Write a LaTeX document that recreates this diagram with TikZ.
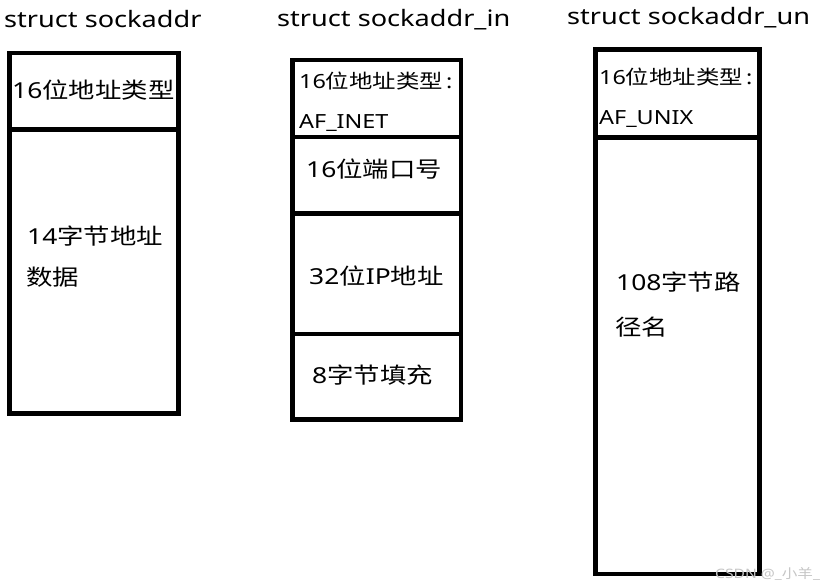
\documentclass[tikz,border=0pt]{standalone}
\usepackage{fontspec}
\setmainfont{Noto Sans}[FakeStretch=1.2]
\newfontfamily\cjk{Noto Sans CJK SC}[FakeStretch=1.2]
\begin{document}
\begin{tikzpicture}[x=1pt,y=-1pt,
  cell/.style={draw=black, line width=4.5pt, rectangle, inner sep=0pt, outer sep=0pt},
  title/.style={anchor=base west, inner sep=0pt, font=\fontsize{22.6}{26}\selectfont},
  txt/.style={anchor=base west, inner sep=0pt, font=\fontsize{22}{26}\selectfont},
  hdr/.style={anchor=base west, inner sep=0pt, font=\fontsize{19.5}{23}\selectfont},
  wmark/.style={anchor=base west, inner sep=0pt, text=gray!45, font=\fontsize{13}{15}\selectfont}]
\fill[white] (0,0) rectangle (827,588);
\useasboundingbox (0,0) rectangle (827,588);

% titles
\node[title] (t1) at (4,28) {struct sockaddr};
\node[title] (t2) at (277,27) {struct sockaddr\_in};
\node[title] (t3) at (567,25) {struct sockaddr\_un};

% box 1: struct sockaddr
\node[cell, minimum width=169pt, minimum height=76.5pt] (a1) at (94,91.25) {};
\node[cell, minimum width=169pt, minimum height=284pt] (a2) at (94,271.5) {};
\node[txt] (a1t) at (12,99) {16{\cjk 位地址类型}};
\node[txt] (a2t) at (27,244) {14{\cjk 字节地址}};
\node[txt] (a2u) at (26,285) {{\cjk 数据}};

% box 2: struct sockaddr_in
\node[cell, minimum width=168.5pt, minimum height=77pt] (b1) at (376.75,98.5) {};
\node[cell, minimum width=168.5pt, minimum height=76.5pt] (b2) at (376.75,175.25) {};
\node[cell, minimum width=168.5pt, minimum height=120.5pt] (b3) at (376.75,273.75) {};
\node[cell, minimum width=168.5pt, minimum height=85.5pt] (b4) at (376.75,376.75) {};
\node[hdr] (b1t) at (299,89) {16{\cjk 位地址类型}\,:};
\node[hdr] (b1u) at (299,129) {AF\_INET};
\node[txt] (b2t) at (306,178) {16{\cjk 位端口号}};
\node[txt] (b3t) at (309,284) {32{\cjk 位}IP{\cjk 地址}};
\node[txt] (b4t) at (312,383) {8{\cjk 字节填充}};

% box 3: struct sockaddr_un
\node[cell, minimum width=164pt, minimum height=88pt] (c1) at (677.5,93.5) {};
\node[cell, minimum width=164pt, minimum height=436.5pt] (c2) at (677.5,355.75) {};
\node[hdr] (c1t) at (599,85) {16{\cjk 位地址类型}\,:};
\node[hdr] (c1u) at (599,125) {AF\_UNIX};
\node[txt] (c2t) at (616,290) {108{\cjk 字节路}};
\node[txt] (c2u) at (615,335) {{\cjk 径名}};

% watermark
\node[wmark] (wm) at (715,578) {CSDN @\_{\cjk 小羊}\_};
\end{tikzpicture}
\end{document}
